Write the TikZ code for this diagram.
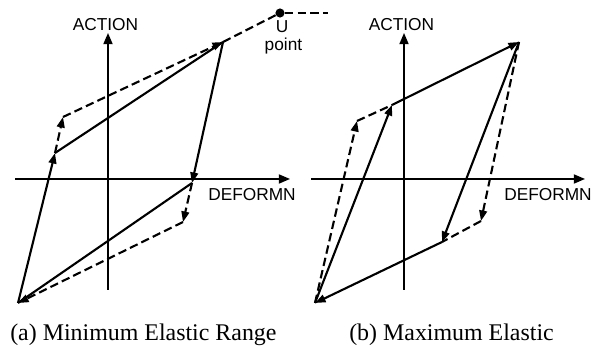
\documentclass[tikz,border=0pt]{standalone}
\usepackage{fontspec}
\setmainfont{Liberation Serif}
\setsansfont{Liberation Sans}
\usetikzlibrary{arrows.meta}
\tikzset{
  axisline/.style={line width=1.1pt, -{Triangle[length=8pt,width=6.5pt]}},
  pathline/.style={line width=1.5pt, line join=miter},
  dashline/.style={pathline, dash pattern=on 6pt off 3pt},
  tipend/.style={-{Triangle[length=7.5pt,width=5.5pt]}},
  axislabel/.style={font=\sffamily\fontsize{12.3}{14}\selectfont, inner sep=0pt},
  caption/.style={font=\fontsize{17}{20}\selectfont, inner sep=0pt},
  upoint/.style={circle, fill, inner sep=0pt, minimum size=6.5pt},
}
\begin{document}
\begin{tikzpicture}[x=0.025cm, y=-0.025cm]
  \useasboundingbox (0,0) rectangle (592,346);
  % (a) minimum elastic range
  \coordinate (xa0) at (15,179);
  \coordinate (xa1) at (290,179);
  \coordinate (ya0) at (108,290);
  \coordinate (ya1) at (108,33);
  \coordinate (tra) at (223,42);
  \coordinate (bla) at (18,303);
  \coordinate (pa1) at (55,153);
  \coordinate (pa2) at (63,117);
  \coordinate (qa1) at (192,183);
  \coordinate (qa2) at (183,222);
  \coordinate (uend) at (328,13);
  \draw[axisline] (xa0) -- (xa1);
  \draw[axisline] (ya0) -- (ya1);
  \node[axislabel, anchor=base] (acta) at (105.5,31) {ACTION};
  \node[axislabel, anchor=base west] (defa) at (208,201) {DEFORMN};
  \node[upoint] (upt) at (280,13) {};
  \node[axislabel, anchor=base] (ulab) at (282,33) {U};
  \node[axislabel, anchor=base] (plab) at (283.5,51) {point};
  \draw[dashline] (tra) -- (upt);
  \draw[dashline] (upt) -- (uend);
  \draw[pathline, tipend] (bla) -- (pa1);
  \draw[pathline] (pa1) -- (tra);
  \draw[dashline, tipend] (pa1) -- (pa2);
  \draw[dashline, tipend] (pa2) -- (tra);
  \draw[pathline, tipend] (tra) -- (qa1);
  \draw[pathline] (qa1) -- (bla);
  \draw[dashline, tipend] (qa1) -- (qa2);
  \draw[dashline, tipend] (qa2) -- (bla);
  \node[caption, anchor=base west] (capa) at (10,341) {(a) Minimum Elastic Range};
  % (b) maximum elastic
  \coordinate (xb0) at (311,179);
  \coordinate (xb1) at (585,179);
  \coordinate (yb0) at (404,290);
  \coordinate (yb1) at (404,33);
  \coordinate (trb) at (519,42);
  \coordinate (blb) at (315,303);
  \coordinate (rb1) at (392,105);
  \coordinate (rb2) at (357,121);
  \coordinate (sb1) at (442,242);
  \coordinate (sb2) at (481,221);
  \draw[axisline] (xb0) -- (xb1);
  \draw[axisline] (yb0) -- (yb1);
  \node[axislabel, anchor=base] (actb) at (401.5,31) {ACTION};
  \node[axislabel, anchor=base east] (defb) at (592,201) {DEFORMN};
  \draw[pathline, tipend] (blb) -- (rb1);
  \draw[dashline, tipend] (blb) -- (rb2);
  \draw[dashline] (rb2) -- (rb1);
  \draw[pathline, tipend] (rb1) -- (trb);
  \draw[pathline, tipend] (trb) -- (sb1);
  \draw[dashline, tipend] (trb) -- (sb2);
  \draw[dashline] (sb2) -- (sb1);
  \draw[pathline, tipend] (sb1) -- (blb);
  \node[caption, anchor=base west] (capb) at (349,341) {(b) Maximum Elastic};
\end{tikzpicture}
\end{document}
